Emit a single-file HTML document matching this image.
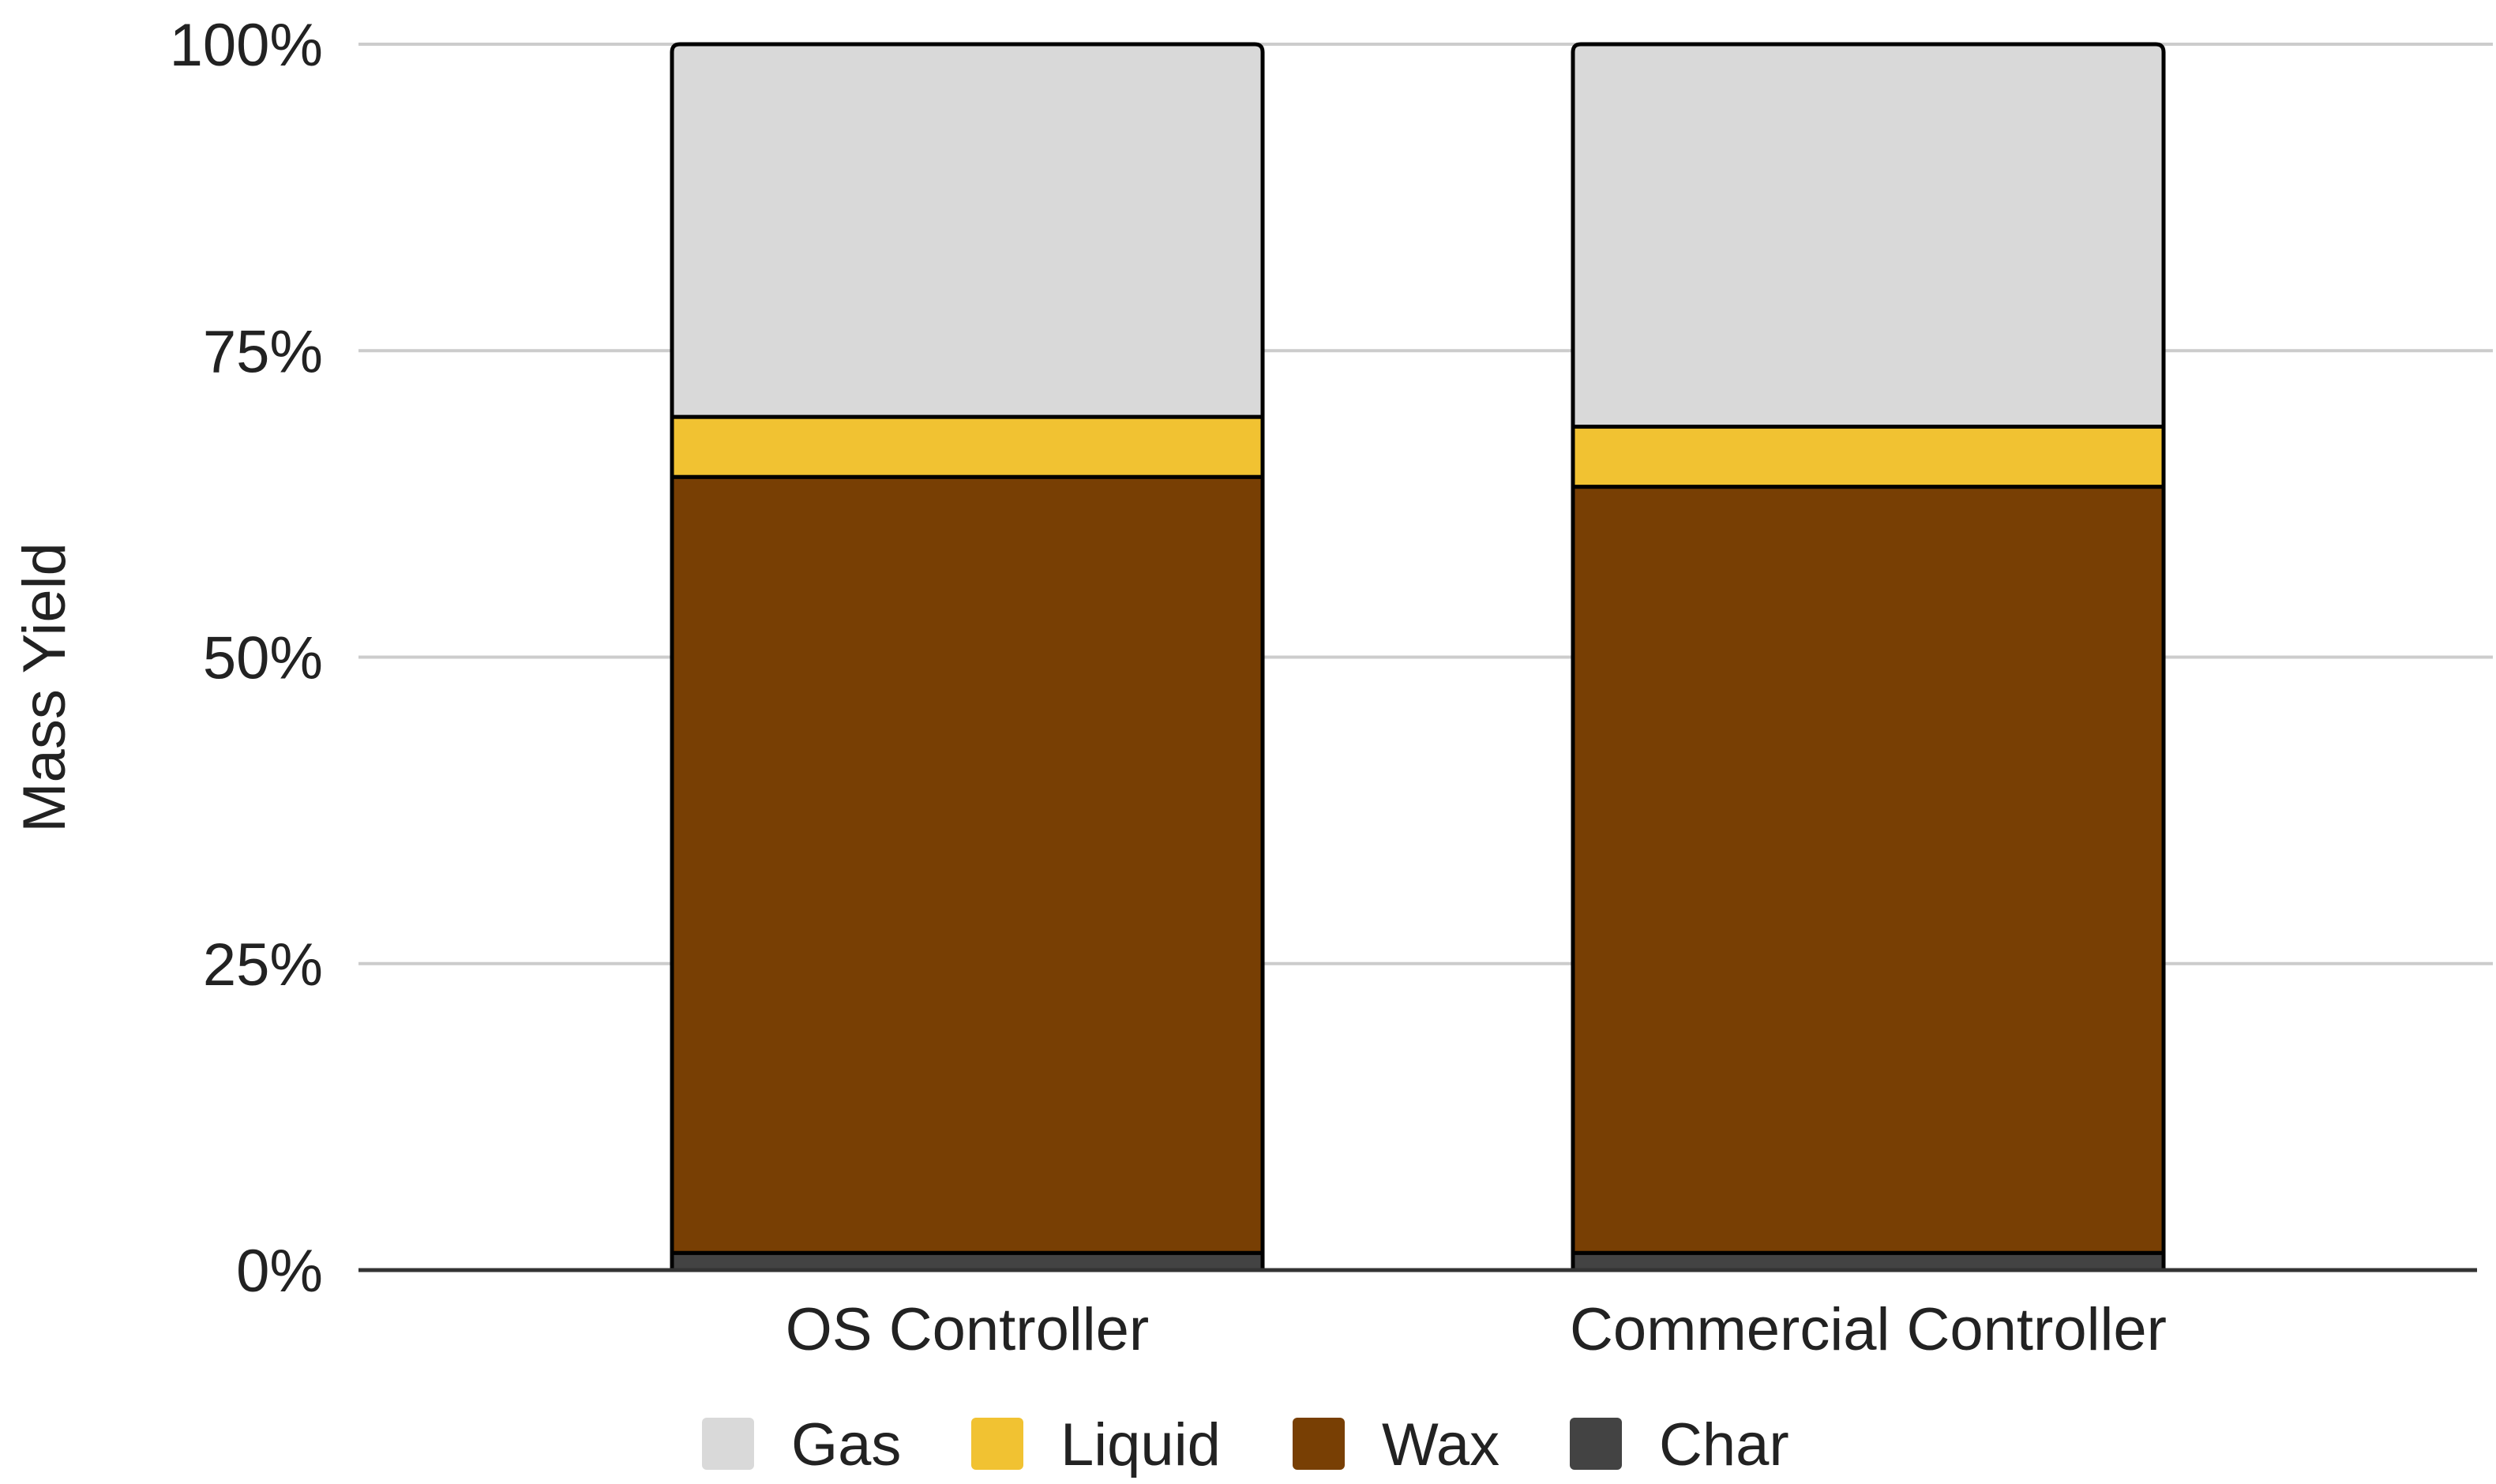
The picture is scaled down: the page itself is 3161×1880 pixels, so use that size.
<!DOCTYPE html>
<html><head><meta charset="utf-8"><style>
html,body{margin:0;padding:0;background:#fff;}
svg{display:block;font-family:"Liberation Sans",Arial,sans-serif;}
</style></head><body>
<svg id="chart" width="3161" height="1880" viewBox="0 0 3161 1880" xmlns="http://www.w3.org/2000/svg">
<g id="grid"></g>
<g id="yticks"></g>
<g id="bars"></g>
<g id="xlabels"></g>
<text x="0" y="0" transform="translate(82,871) rotate(-90)" text-anchor="middle" font-size="76" fill="#222">Mass Yield</text>
<g id="legend"></g>
</svg>
<script>
const categories = ["OS Controller", "Commercial Controller"];
const seriesNames = ["Char", "Wax", "Liquid", "Gas"];
const charVals = [1.4, 1.4];
const waxVals = [63.3, 62.5];
const liquidVals = [4.9, 4.9];
const gasVals = [30.4, 31.2];
const yTicks = [0, 25, 50, 75, 100];
const yTickLabels = ["0%", "25%", "50%", "75%", "100%"];

const colors = {Gas:"#d9d9d9", Liquid:"#f1c232", Wax:"#783f04", Char:"#434343"};
const seriesVals = {Char:charVals, Wax:waxVals, Liquid:liquidVals, Gas:gasVals};
const NS = "http://www.w3.org/2000/svg";
const plotL = 454, plotR = 3137, y0 = 1609, y100 = 56;
const yScale = v => y0 - (v/100)*(y0 - y100);
const barW = 748;
function mk(tag, attrs, parent){const e=document.createElementNS(NS,tag);for(const k in attrs)e.setAttribute(k,attrs[k]);parent.appendChild(e);return e;}

const grid=document.getElementById('grid'), yt=document.getElementById('yticks');
yTicks.forEach((t,i)=>{
  const y=yScale(t);
  if(t!==0){
    const l=mk('line',{x1:plotL,x2:plotR+20,y1:y,y2:y,stroke:'#cccccc','stroke-width':4},grid);
    
    
  }
  const tx=mk('text',{x:409,y:y+27,'text-anchor':'end','font-size':76,fill:'#222'},yt);
  tx.textContent=yTickLabels[i];
  
  
});

const bars=document.getElementById('bars'), xl=document.getElementById('xlabels');
const centers=[1225,2366];
categories.forEach((c,i)=>{
  const cx=centers[i]; const x=cx-barW/2;
  let cum=0;
  seriesNames.forEach(s=>{
    const v=seriesVals[s][i];
    const yt1=yScale(cum+v), yb=yScale(cum);
    let el;
    if(s==="Gas"){
      const r=10;
      const d=`M${x},${yb} L${x},${yt1+r} Q${x},${yt1} ${x+r},${yt1} L${x+barW-r},${yt1} Q${x+barW},${yt1} ${x+barW},${yt1+r} L${x+barW},${yb} Z`;
      el=mk('path',{d:d,fill:colors[s],stroke:'#000','stroke-width':5},bars);
    } else {
      el=mk('rect',{x:x,y:yt1,width:barW,height:yb-yt1,fill:colors[s],stroke:'#000','stroke-width':5},bars);
    }
    
    
    cum+=v;
  });
  const t=mk('text',{x:cx,y:1710,'text-anchor':'middle','font-size':76,fill:'#222'},xl);
  t.textContent=c;
  
  
});
const base=mk('line',{x1:plotL,x2:plotR,y1:y0,y2:y0,stroke:'#333','stroke-width':5},bars);



const legendOrder=["Gas","Liquid","Wax","Char"];
const swX=[889,1230,1637,1988];
const lg=document.getElementById('legend');
legendOrder.forEach((s,i)=>{
  const g=mk('g',{},lg);
  
  
  mk('rect',{x:swX[i],y:1796,width:66,height:66,rx:6,fill:colors[s]},g);
  const t=mk('text',{x:swX[i]+113,y:1856,'font-size':76,fill:'#222'},g);
  t.textContent=s;
});
</script>
</body></html>
